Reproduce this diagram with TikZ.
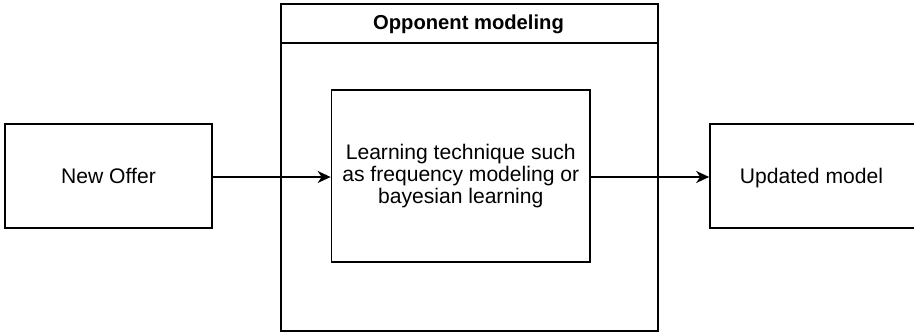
\documentclass[tikz,border=0pt]{standalone}
\usepackage{fontspec}
\setmainfont{Liberation Sans}
\usetikzlibrary{arrows.meta}
\begin{document}
\begin{tikzpicture}[x=1pt,y=-1pt,
  box/.style={draw, line width=1.7pt},
  lbl/.style={font=\fontsize{21.1}{22.2}\selectfont, align=center, inner sep=0pt},
  flow/.style={line width=1.7pt, -{Stealth[length=13pt,width=12pt,inset=4pt]}}]
\useasboundingbox (0,0) rectangle (914,334);
% container with its title band
\draw[box] (281,4) rectangle (658,331);
\draw[box] (281,43) -- (658,43);
\node[lbl, font=\fontsize{20.2}{22}\selectfont\bfseries, anchor=base] (title) at (468.5,30) {Opponent modeling};
% boxes
\node[box, minimum width=207pt, minimum height=104pt, inner sep=0pt] (offer) at (108.5,176) {};
\node[lbl, anchor=base] (offertxt) at (108.5,183.5) {New Offer};
\node[box, minimum width=258.5pt, minimum height=172pt, inner sep=0pt] (learn) at (460.75,176) {};
\node[lbl] (learntxt) at (learn.center) {Learning technique such\\as frequency modeling or\\bayesian learning};
% the result box runs on past the right edge of the page
\node[box, minimum width=240pt, minimum height=104pt, inner sep=0pt] (model) at (830,176) {};
\node[lbl, anchor=base] (modeltxt) at (811.5,183.5) {Updated model};
% connectors
\draw[flow] (offer.east |- 0,177) -- (learn.west |- 0,177);
\draw[flow] (learn.east |- 0,177) -- (model.west |- 0,177);
\end{tikzpicture}
\end{document}
